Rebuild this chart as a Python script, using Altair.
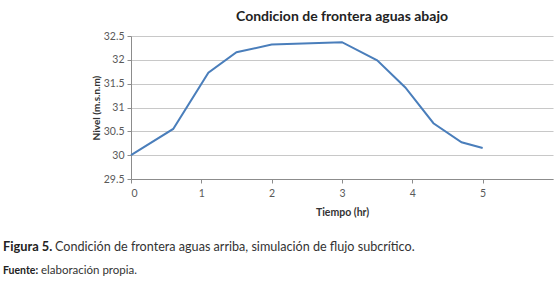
import altair as alt
import pandas as pd

tiempo = [0, 0.6, 1.1, 1.5, 2.0, 3.0, 3.5, 3.9, 4.3, 4.7, 5.0]
nivel = [30.0, 30.55, 31.73, 32.16, 32.32, 32.37, 31.99, 31.42, 30.67, 30.27, 30.15]

title_text = "Condicion de frontera aguas abajo"
x_title = "Tiempo (hr)"
y_title = "Nivel (m.s.n.m)"
fig_bold = "Figura 5."
fig_rest = "Condición de frontera aguas arriba, simulación de flujo subcrítico."
src_bold = "Fuente:"
src_rest = "elaboración propia."

df = pd.DataFrame({"t": tiempo, "n": nivel})
one = pd.DataFrame({"a": [0]})

FONT = "Lato"
W, H = 422, 143
L, T = 131, 36

line = alt.Chart(df).mark_line(color="#4a7ebb", strokeWidth=2).encode(
    x=alt.X("t:Q", title=x_title,
            scale=alt.Scale(domain=[0, 6], nice=False),
            axis=alt.Axis(values=[0, 1, 2, 3, 4, 5], grid=False,
                          labelFont=FONT, labelFontSize=10.5, labelColor="#595959",
                          labelPadding=5, tickSize=4, tickColor="#8c8c8c",
                          domainColor="#8c8c8c",
                          titleFont=FONT, titleFontSize=10.5, titleFontWeight="bold",
                          titleColor="#333333", titlePadding=9)),
    y=alt.Y("n:Q", title=y_title,
            scale=alt.Scale(domain=[29.5, 32.5], nice=False, zero=False),
            axis=alt.Axis(values=[29.5, 30, 30.5, 31, 31.5, 32, 32.5],
                          format="~g", gridColor="#c8c8c8", gridWidth=1.2,
                          labelFont=FONT, labelFontSize=10.5, labelColor="#595959",
                          labelPadding=3, tickSize=4, tickColor="#8c8c8c",
                          domainColor="#8c8c8c",
                          titleFont=FONT, titleFontSize=10, titleFontWeight="bold",
                          titleColor="#333333", titlePadding=2)),
)

def txt(s, x, y, size, weight="normal", color="#333333", align="left"):
    return alt.Chart(one).mark_text(
        text=s, font=FONT, fontSize=size, fontWeight=weight, color=color,
        align=align, baseline="alphabetic"
    ).encode(x=alt.value(x), y=alt.value(y))

title = txt(title_text, 342 - L, 21 - T, 14, "bold", "#222222", "center")
cap1 = txt(fig_bold, 3 - L, 251 - T, 12.8, "bold", "#222222")
cap2 = txt(fig_rest, 55 - L, 251 - T, 12.6, "normal", "#333333")
src1 = txt(src_bold, 3 - L, 274 - T, 10.5, "bold", "#222222")
src2 = txt(src_rest, 41 - L, 274 - T, 11.5, "normal", "#333333")

chart = alt.layer(line, title, cap1, cap2, src1, src2).properties(
    width=W, height=H,
    autosize=alt.AutoSizeParams(type="none"),
    padding={"left": L, "top": T, "right": 560 - L - W, "bottom": 286 - T - H},
    background="white",
).configure_view(stroke=None)

chart.save("out.html", embed_options={"renderer": "svg", "actions": False})
